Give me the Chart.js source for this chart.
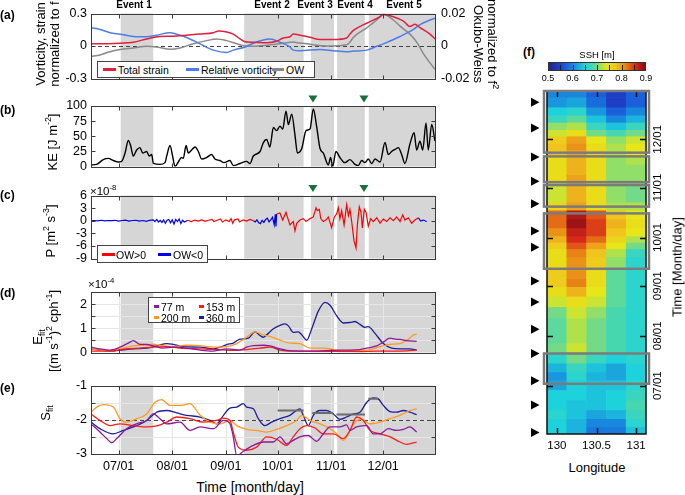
<!DOCTYPE html>
<html>
<head>
<meta charset="utf-8">
<title>Eddy events</title>
<script src="https://cdn.jsdelivr.net/npm/chart.js@4.4.1/dist/chart.umd.min.js"></script>
<style>
  body { margin: 0; width: 685px; height: 495px; position: relative; overflow: hidden; background: #fff;
         font-family: "Liberation Sans", Arial, sans-serif; color: #000; }
  canvas { position: absolute; }
  .t { position: absolute; white-space: nowrap; line-height: 1; }
  .c { transform: translate(-50%, -50%); }
  .v { transform: translate(-50%, -50%) rotate(-90deg); text-align: center; }
  .vr { transform: translate(-50%, -50%) rotate(90deg); text-align: center; }
  .b { font-weight: bold; }
  .leg { position: absolute; background: #fff; border: 1px solid #444; box-sizing: border-box; font-size: 10.5px; }
  .sw { position: absolute; height: 3px; }
  .cbt { position: absolute; width: 1px; height: 5px; background: #222; }
  sup, sub { font-size: 68%; line-height: 0; }
</style>
</head>
<body>
<canvas id="chartA" width="480" height="92" style="left:0;top:0"></canvas>
<canvas id="chartB" width="480" height="84" style="left:0;top:94px"></canvas>
<canvas id="chartC" width="480" height="86" style="left:0;top:184px"></canvas>
<canvas id="chartD" width="480" height="84" style="left:0;top:280px"></canvas>
<canvas id="chartE" width="480" height="101" style="left:0;top:374px"></canvas>
<canvas id="chartF" width="180" height="374" style="left:505px;top:80px"></canvas>

<!-- panel letters -->
<div class="t b" style="left:0;top:9px;font-size:12px">(a)</div>
<div class="t b" style="left:0;top:104px;font-size:12px">(b)</div>
<div class="t b" style="left:0;top:189px;font-size:12px">(c)</div>
<div class="t b" style="left:0;top:287px;font-size:12px">(d)</div>
<div class="t b" style="left:0;top:382px;font-size:12px">(e)</div>
<div class="t b" style="left:523px;top:46px;font-size:12px">(f)</div>

<!-- event names -->
<div class="t b c" style="left:134px;top:5px;font-size:10px">Event 1</div>
<div class="t b c" style="left:272px;top:5px;font-size:10px">Event 2</div>
<div class="t b c" style="left:315px;top:5px;font-size:10px">Event 3</div>
<div class="t b c" style="left:355px;top:5px;font-size:10px">Event 4</div>
<div class="t b c" style="left:404px;top:5px;font-size:10px">Event 5</div>

<!-- axis titles -->
<div class="t v" style="left:40px;top:44px;font-size:13px">Vorticity, strain</div>
<div class="t v" style="left:54px;top:44px;font-size:13px">normalized to f</div>
<div class="t vr" style="left:478px;top:44px;font-size:13px">Okubo-Weiss</div>
<div class="t vr" style="left:492px;top:44px;font-size:13px">normalized to f<sup>2</sup></div>
<div class="t v" style="left:52px;top:142px;font-size:13px">KE [J m<sup>-2</sup>]</div>
<div class="t v" style="left:50px;top:231px;font-size:13px">P [m<sup>2</sup> s<sup>-3</sup>]</div>
<div class="t v" style="left:37px;top:337px;font-size:13px">E<sub>fit</sub></div>
<div class="t v" style="left:53px;top:331px;font-size:13px">[(m s<sup>-1</sup>)<sup>2</sup> cph<sup>-1</sup>]</div>
<div class="t v" style="left:45px;top:413px;font-size:13px">S<sub>fit</sub></div>
<div class="t c" style="left:250px;top:487px;font-size:14px">Time [month/day]</div>
<div class="t" style="left:90px;top:186px;font-size:11.5px">×10<sup>-8</sup></div>
<div class="t" style="left:88px;top:279px;font-size:11.5px">×10<sup>-4</sup></div>

<!-- legends -->
<div class="leg" style="left:97px;top:61px;width:218px;height:17px">
  <span class="sw" style="left:5px;top:6px;width:13px;background:#e0203c"></span>
  <span class="t" style="left:20px;top:3px">Total strain</span>
  <span class="sw" style="left:88px;top:6px;width:13px;background:#4d7ee8"></span>
  <span class="t" style="left:103px;top:3px">Relative vorticity</span>
  <span class="sw" style="left:174px;top:6px;width:12px;background:#888"></span>
  <span class="t" style="left:188px;top:3px">OW</span>
</div>
<div class="leg" style="left:97px;top:245px;width:111px;height:18px">
  <span class="sw" style="left:4px;top:7px;width:13px;background:#ff0000"></span>
  <span class="t" style="left:18px;top:4px">OW&gt;0</span>
  <span class="sw" style="left:60px;top:7px;width:13px;background:#0000ee"></span>
  <span class="t" style="left:75px;top:4px">OW&lt;0</span>
</div>
<div class="leg" style="left:148px;top:297px;width:92px;height:26px">
  <span class="sw" style="left:5px;top:7px;width:5px;background:#8b1a9b"></span>
  <span class="t" style="left:12px;top:4px">77 m</span>
  <span class="sw" style="left:50px;top:7px;width:5px;background:#ff1a1a"></span>
  <span class="t" style="left:57px;top:4px">153 m</span>
  <span class="sw" style="left:5px;top:18px;width:5px;background:#ff9a1f"></span>
  <span class="t" style="left:12px;top:15px">200 m</span>
  <span class="sw" style="left:50px;top:18px;width:5px;background:#1f1f9a"></span>
  <span class="t" style="left:57px;top:15px">360 m</span>
</div>

<!-- panel f extras -->
<div class="t c" style="left:597px;top:55px;font-size:9.5px">SSH [m]</div>
<div id="cbar" style="position:absolute;left:548px;top:62px;width:98px;height:9px;border:1px solid #333;box-sizing:border-box"></div>
<div id="cbarLabels"></div>
<div class="t c" style="left:597px;top:467px;font-size:13px">Longitude</div>
<div class="t v" style="left:677px;top:267px;font-size:13px">Time [Month/day]</div>

<script>
// ---- time axis (days since 07/01) ----
const monthDays = [0, 31, 62, 92, 123, 153];
const monthLabels = ['07/01', '08/01', '09/01', '10/01', '11/01', '12/01'];
const events = [[1.2, 20], [72.6, 107], [111.2, 124.6], [126.4, 142.4], [144.7, 183]];
const greenDays = [112.4, 141.9];

// ---- (a) vorticity / strain / OW ----
const strainDay = [-16, -10.8, 0.8, 8.5, 16.2, 23.9, 31.6, 39.3, 47.1, 54.8, 57.7, 62.5, 66.3, 70.2, 73.1, 77.9, 85.6, 91.4, 95.3, 99.1, 101, 104.9, 110.7, 116.5, 124.2, 131.9, 133.8, 135.8, 143.5, 151.2, 153.1, 158.9, 164.7, 168.5, 171.4, 174.3, 180.1, 183];
const strain = [0.02, 0.02, 0.026, 0.035, 0.065, 0.088, 0.09, 0.1, 0.11, 0.123, 0.138, 0.13, 0.11, 0.065, 0.04, 0.035, 0.03, 0.044, 0.074, 0.085, 0.11, 0.1, 0.08, 0.06, 0.06, 0.074, 0.11, 0.144, 0.21, 0.27, 0.29, 0.27, 0.23, 0.18, 0.2, 0.17, 0.11, 0.065];
const vortDay = [-16, -10.8, -5, 0.8, 8.5, 16.2, 22, 29.7, 33.6, 39.3, 47.1, 54.8, 62.5, 66.3, 73.1, 77.9, 83.7, 87.5, 93.3, 99.1, 101, 104.9, 116.5, 124.2, 131.9, 135.8, 143.5, 149.3, 153.1, 162.8, 170.5, 174.3, 180.1, 183];
const vort = [0.168, 0.153, 0.123, 0.109, 0.088, 0.085, 0.1, 0.123, 0.109, 0.079, 0.02, -0.038, -0.059, -0.038, -0.009, 0.026, 0.056, 0.065, 0.035, -0.009, -0.038, -0.044, -0.032, -0.044, -0.053, -0.047, -0.038, -0.003, 0.02, 0.088, 0.153, 0.197, 0.24, 0.256];
const owDay = [-16, -10.8, -5, 0.8, 8.5, 16.2, 22, 29.7, 35.5, 43.2, 50.9, 56.7, 62.5, 68.3, 73.1, 77.9, 85.6, 93.3, 97.2, 101, 104.9, 112.6, 120.3, 131.9, 133.8, 135.8, 143.5, 149.3, 153.1, 158.9, 162.8, 168.5, 172.4, 176.2, 180.1, 183];
const ow = [-0.0065, -0.0055, -0.0035, -0.0022, -0.0012, -0.0002, -0.0006, -0.002, -0.0012, 0.0014, 0.0033, 0.0043, 0.0033, 0.0014, 0, -0.0002, 0.0004, 0.0014, 0.002, 0.0024, 0.0018, 0.0008, 0, 0.0008, 0.0024, 0.0053, 0.0112, 0.016, 0.0196, 0.016, 0.0122, 0.0073, 0.0024, -0.0045, -0.0104, -0.0143];

// ---- (b) kinetic energy ----
const keDay = [-16, -12.7, -8.9, -6, -3.1, -0.2, 1.7, 3.7, 5.6, 6.9, 8.5, 10.4, 12.3, 13.9, 16.2, 17.7, 19.1, 20.1, 23.9, 26.8, 27.8, 29.7, 31.2, 32.6, 34.5, 36.4, 37.4, 39, 40.3, 42.2, 44.2, 46.1, 48, 50.9, 53.8, 55.7, 58.6, 60.9, 64.4, 66.3, 70.2, 74, 76, 77.9, 81.8, 83.7, 85.6, 87.5, 89.5, 91.4, 93.3, 94.9, 96.8, 98.2, 100.1, 102, 103.4, 105.9, 108.4, 110.7, 112.6, 114.5, 116.5, 118.4, 121.3, 122.6, 123.8, 125.7, 128, 130.9, 133.8, 136.7, 138.6, 140.6, 142.5, 144.4, 146.4, 148.3, 151.2, 154.1, 156, 157.9, 159.9, 161.8, 163.7, 165.6, 168.5, 170.9, 172.4, 174.3, 175.9, 177.8, 179.1, 181.1, 183];
const ke = [2.5, 3.5, 11.4, 13.4, 9.9, 7.4, 8.4, 22.3, 43, 34.7, 17.3, 27.2, 31.2, 22.3, 24.8, 17.3, 19.8, 5, 3.5, 6.4, 17.3, 34.7, 17.3, 0, 7.4, 14.9, 13.4, 34.7, 22.3, 27.2, 32.2, 24.8, 12.4, 14.9, 19.8, 12.4, 9.9, 6.4, 9.9, 1.5, 5, 8.4, 5, 17.3, 24.8, 39.6, 44.6, 32.2, 64.4, 59.4, 66.8, 61.9, 91.6, 69.3, 86.6, 52, 22.3, 29.7, 59.4, 61.9, 95, 66.8, 29.7, 22.3, 2.5, 14.9, 0, 24.8, 14.9, 6.4, 11.4, 3.5, 1.5, 9.9, 6.4, 12.4, 5, 12.4, 7.4, 39.6, 19.8, 24.8, 28.2, 31.2, 19.8, 5, 37.1, 55.9, 27.2, 42, 27.2, 71.8, 27.2, 69.3, 42];

// ---- (c) energy conversion P (x1e-8) ----
const pDay = [-16, -14, -12, -10, -8, -6, -4, -2, 0, 2, 4, 6, 8, 10, 12, 14, 16, 18, 20, 21, 22, 23, 24, 25, 26, 27, 28, 29, 30, 31, 32, 33, 34, 35, 36, 37, 38,
  40, 42, 44, 46, 48, 50, 52, 54, 55, 57, 59, 60, 62, 64, 65, 66, 67, 69, 70, 72, 74, 76, 78,
  79, 80, 81, 82, 83, 84, 85, 86, 87, 88, 89, 90, 90.6, 91, 91.4,
  93.3, 94.9, 96.8, 97.6, 99.1, 101, 102, 103, 104.9, 106.8, 108.4, 110.7, 112.6, 114.2, 114.9, 116.1, 116.9, 118.4, 119.9, 121.3, 123.2, 124.8, 126.1, 127.1, 128, 129, 130.4, 131.9, 132.9, 133.8, 134.8, 136.1, 137.3, 138.1, 139.2, 140.2, 141, 142.1, 143.1, 144.4, 145.8, 147.3, 149.3, 151.2, 153.1, 155, 157, 158.9, 160.8, 162.8, 164.3, 165.6, 167.6, 169.5, 171.4, 173.4,
  174.7, 176.2, 178.2];
const pVal = [0, 0.05, -0.05, 0.1, -0.05, 0.05, 0, 0.1, -0.1, 0.05, 0.15, -0.1, 0.05, 0.1, -0.1, 0.05, -0.15, 0.1, 0.2, -0.2, 0.3, -0.3, 0.1, -0.4, 0.2, -0.6, 0.1, 0.3, -0.5, 0.2, -0.8, 0.3, -0.2, 0.4, -0.7, 0.1, -0.3,
  0.1, -0.2, 0.15, -0.1, 0.2, -0.15, 0.1, 0.3, -0.2, 0.1, 0.4, -0.3, 0.2, -0.2, 0.5, -0.6, 0.2, 0.4, -0.3, 0.2, -0.1, 0.3, 0,
  -0.3, 0.2, -0.5, -0.7, 0.1, -0.4, 0.3, 0.6, -0.3, 0.2, 0.8, -1.0, 1.5, -1.4, 1.6,
  1.85, 0.15, 2.0, 0.9, -1.0, -0.2, -2.4, -0.6, 0.15, 0.5, -0.2, 0.5, 0.9, 3.1, 2.4, 2.7, 0.5, -0.2, 0.15, 0.9, -1.7, 0.9, 1.6, 3.1, 0.5, 2.4, -1.0, 3.8, 1.25, 2.7, -0.2, -4.7, -6.5, -1.0, 3.3, 2.0, -1.7, 2.7, 2.0, -1.3, 0.5, -0.2, 0.7, -0.6, 0.4, -0.2, 0.7, 0, 0.9, -0.2, 1.4, 0.15, 0.7, -0.6, 0.15, 0.7,
  -0.1, 0.15, -0.2];
const owNegRanges = [[-16, 39], [78, 91.4], [173.4, 184]];

// ---- (d) E_fit (x1e-4) ----
const e360Day = [-16, -10.8, -5, 0.8, 8.5, 16.2, 22, 27.8, 31.6, 37.4, 47.1, 54.8, 59.6, 62.5, 66.3, 70.2, 75, 78.9, 81.8, 83.7, 85.6, 89.5, 93.3, 96.2, 98.2, 101, 103.9, 105.9, 108.8, 111.7, 115.5, 119.4, 122.3, 126.1, 130, 133.8, 136.7, 139.6, 142.5, 144.4, 148.3, 153.1, 157.9, 162.8, 168.5, 172.4];
const e360 = [0.15, 0.1, 0.06, 0.1, 0.15, 0.18, 0.27, 0.37, 0.34, 0.24, 0.22, 0.15, 0.24, 0.33, 0.39, 0.55, 0.59, 0.85, 0.7, 0.63, 0.73, 0.98, 1.12, 1.18, 1.1, 0.83, 0.85, 0.73, 0.51, 0.98, 1.71, 2.07, 1.95, 1.52, 1.22, 1.24, 1.28, 1.16, 1.04, 1.07, 0.79, 0.37, 0.18, 0.15, 0.15, 0.1];
const e200Day = [-16, -10.8, -5, 0.8, 8.5, 14.3, 20.1, 23.9, 31.6, 39.3, 47.1, 54.8, 62.5, 68.3, 74, 78.9, 83.7, 87.5, 93.3, 99.1, 104.9, 110.7, 118.4, 124.2, 130, 137.7, 143.5, 151.2, 157, 162.8, 167.6, 170.5, 172.4];
const e200 = [0.15, 0.1, 0.06, 0.15, 0.27, 0.3, 0.34, 0.3, 0.24, 0.3, 0.28, 0.22, 0.24, 0.37, 0.63, 0.85, 0.73, 0.67, 0.51, 0.39, 0.37, 0.18, 0.18, 0.12, 0.06, 0.09, 0.1, 0.24, 0.34, 0.37, 0.55, 0.73, 0.76];
const e77Day = [-16, -10.8, -5, 0.8, 5.6, 8.5, 12.3, 16.2, 20.1, 25.8, 31.6, 39.3, 47.1, 54.8, 62.5, 70.2, 74, 77.9, 83.7, 87.5, 93.3, 97.2, 104.9, 114.5, 124.2, 131.9, 139.6, 143.5, 149.3, 153.1, 157, 159.9, 162.8, 166.6, 172.4];
const e77 = [0.22, 0.15, 0.1, 0.22, 0.39, 0.49, 0.34, 0.33, 0.27, 0.18, 0.22, 0.18, 0.1, 0.06, 0.15, 0.1, 0.22, 0.28, 0.3, 0.27, 0.15, 0.09, 0.06, 0.06, 0.09, 0.1, 0.12, 0.18, 0.27, 0.43, 0.59, 0.55, 0.54, 0.49, 0.46];
const e153Day = [-16, -5, 4.6, 12.3, 20.1, 27.8, 35.5, 47.1, 56.7, 66.3, 74, 81.8, 87.5, 93.3, 99.1, 108.8, 118.4, 128, 139.6, 149.3, 158.9, 166.6, 172.4];
const e153 = [0.06, 0.06, 0.15, 0.18, 0.22, 0.24, 0.18, 0.15, 0.12, 0.09, 0.12, 0.18, 0.22, 0.1, 0.06, 0.06, 0.05, 0.05, 0.04, 0.06, 0.06, 0.07, 0.1];

// ---- (e) S_fit ----
const s360Day = [-16, -10.8, -3.1, 2.7, 8.5, 16.2, 22, 27.8, 33.6, 39.3, 47.1, 52.9, 56.7, 60.6, 64.4, 68.3, 72.1, 74, 77.9, 80.8, 84.6, 88.5, 93.3, 99.1, 104.9, 106.8, 109.7, 112.6, 116.5, 120.3, 124.2, 128, 131.9, 135.8, 139.6, 143.5, 147.3, 150.2, 153.1, 157, 160.8, 164.7, 168.5, 172.4];
const s360 = [-2.07, -2.26, -2.41, -2.31, -2.21, -2.02, -1.78, -1.73, -1.8, -1.87, -1.92, -2.02, -2.12, -1.87, -1.66, -1.63, -1.53, -1.63, -1.68, -1.97, -2.17, -2.07, -1.97, -1.87, -1.68, -1.87, -2.17, -1.87, -1.73, -1.73, -1.83, -1.99, -1.92, -1.83, -1.78, -1.49, -1.36, -1.39, -1.58, -1.76, -1.78, -1.73, -1.78, -1.85];
const s200Day = [-16, -12.7, -8.9, -3.1, 0.8, 4.6, 10.4, 16.2, 21, 24.8, 29.7, 35.5, 41.3, 47.1, 52.9, 58.6, 64.4, 68.3, 74, 79.8, 85.6, 91.4, 97.2, 102.9, 105.9, 110.7, 116.5, 122.3, 126.1, 130, 132.9, 136.7, 140.6, 145.4, 151.2, 157, 162.8, 168.5, 172.4];
const s200 = [-1.78, -1.63, -1.56, -1.63, -1.97, -2.07, -1.97, -1.83, -1.49, -1.41, -1.58, -1.58, -1.53, -1.87, -2.07, -2.12, -2.02, -2.17, -2.28, -2.31, -2.36, -2.28, -2.17, -2.02, -1.87, -2.02, -2.12, -2.26, -2.41, -2.6, -2.41, -2.07, -1.99, -2.12, -2.07, -1.97, -1.87, -1.73, -1.68];
const s77Day = [-16, -10.8, -6.9, -4, -1.1, 4.6, 10.4, 16.2, 20.1, 23.9, 27.8, 35.5, 41.3, 47.1, 54.8, 60.6, 64.4, 66.3, 68.3, 72.1, 77.9, 83.7, 89.5, 93.3, 97.2, 101, 104.9, 109.7, 114.5, 118.4, 122.3, 128, 131.9, 133.8, 137.7, 143.5, 147.3, 151.2, 156, 160.8, 164.7, 168.5, 172.4];
const s77 = [-2.12, -2.36, -2.55, -2.67, -2.55, -2.26, -2.12, -2.02, -1.83, -1.97, -2.12, -2.07, -2.31, -2.21, -2.26, -2.02, -2.12, -2.5, -3.05, -2.92, -2.75, -2.65, -2.65, -2.5, -2.7, -2.6, -2.5, -2.46, -2.63, -2.41, -2.21, -2.21, -2.15, -2.31, -2.21, -2.17, -2.41, -2.41, -2.26, -2.31, -2.28, -2.21, -2.36];
const s153Day = [-16, -10.8, -5, 0.8, 8.5, 16.2, 22, 27.8, 33.6, 41.3, 49, 56.7, 60.6, 64.4, 66.3, 69.2, 74, 79.8, 85.6, 91.4, 97.2, 101, 104.9, 108.8, 113.6, 118.4, 124.2, 130, 133.8, 137.7, 141.5, 145.4, 151.2, 157, 162.8, 166.6, 172.4];
const s153 = [-1.83, -2.02, -2.17, -2.12, -2.17, -2.21, -2.18, -2.07, -1.92, -1.97, -2.07, -2.02, -1.95, -2.02, -2.36, -2.8, -2.89, -2.8, -2.5, -2.57, -2.75, -2.5, -2.26, -2.17, -2.24, -2.41, -2.41, -2.55, -2.31, -1.92, -2.02, -2.31, -2.41, -2.5, -2.65, -2.72, -2.65];
const sMeanSpan = [[92, 107], [112, 124], [126, 142.5], [144.4, 150]];
const sMean = [-1.73, -1.8, -1.85, -1.39];

// ---- (f) SSH Hovmoller (rows: day, cols: longitude) ----
const sshLon = [130, 130.25, 130.5, 130.75, 131];
const sshDays = [-28, -23, -18, -12, -6, 1, 6, 11, 17, 23, 30, 38, 46, 52, 59, 64, 69, 77, 83, 87, 91, 95, 101, 106, 112, 116, 122, 128, 134, 141, 145, 148, 153, 157, 161, 166, 170, 176, 182];
const sshRows = [
  [0.65, 0.63, 0.59, 0.59, 0.64], [0.65, 0.63, 0.60, 0.60, 0.66], [0.66, 0.64, 0.62, 0.63, 0.67],
  [0.65, 0.64, 0.64, 0.65, 0.68], [0.65, 0.65, 0.64, 0.65, 0.67], [0.62, 0.65, 0.64, 0.64, 0.66],
  [0.61, 0.66, 0.63, 0.62, 0.65], [0.63, 0.67, 0.64, 0.62, 0.65], [0.66, 0.70, 0.67, 0.65, 0.66],
  [0.70, 0.73, 0.70, 0.68, 0.66], [0.69, 0.72, 0.70, 0.68, 0.66], [0.69, 0.72, 0.70, 0.68, 0.66],
  [0.70, 0.73, 0.71, 0.68, 0.66], [0.73, 0.75, 0.73, 0.69, 0.66], [0.75, 0.79, 0.74, 0.69, 0.66],
  [0.77, 0.82, 0.75, 0.69, 0.66], [0.77, 0.81, 0.75, 0.69, 0.66], [0.75, 0.81, 0.77, 0.71, 0.66],
  [0.75, 0.82, 0.78, 0.72, 0.67], [0.77, 0.84, 0.80, 0.74, 0.70], [0.79, 0.86, 0.83, 0.76, 0.72],
  [0.81, 0.87, 0.85, 0.78, 0.74], [0.83, 0.89, 0.85, 0.79, 0.75], [0.83, 0.88, 0.84, 0.78, 0.74],
  [0.76, 0.80, 0.75, 0.72, 0.72], [0.73, 0.79, 0.75, 0.71, 0.70], [0.73, 0.79, 0.75, 0.71, 0.70],
  [0.75, 0.80, 0.75, 0.71, 0.71], [0.75, 0.79, 0.75, 0.71, 0.71], [0.75, 0.79, 0.75, 0.71, 0.72],
  [0.78, 0.80, 0.76, 0.72, 0.74], [0.78, 0.81, 0.75, 0.72, 0.74], [0.77, 0.80, 0.74, 0.71, 0.73],
  [0.73, 0.75, 0.70, 0.68, 0.70], [0.71, 0.72, 0.67, 0.64, 0.67], [0.67, 0.69, 0.64, 0.60, 0.63],
  [0.65, 0.66, 0.61, 0.57, 0.60], [0.61, 0.62, 0.58, 0.54, 0.57], [0.60, 0.60, 0.57, 0.54, 0.57]
];
const sshMarkDays = [-29, -12, 3, 20, 35, 52, 65, 86, 96, 113, 127, 142, 160, 176];
const lonTicks = [130, 130.5, 131];
const cbTicks = [0.5, 0.6, 0.7, 0.8, 0.9];
const cbMinorTicks = [0.55, 0.6, 0.65, 0.7, 0.75, 0.8, 0.85];

// ---- colour map for SSH ----
const cmapStops = [
  [0.50, [40, 35, 130]], [0.55, [25, 70, 215]], [0.60, [25, 135, 222]], [0.65, [30, 210, 220]],
  [0.68, [70, 215, 175]], [0.70, [115, 218, 135]], [0.72, [175, 225, 75]], [0.74, [230, 230, 25]],
  [0.78, [240, 195, 30]], [0.82, [232, 130, 22]], [0.86, [215, 40, 25]], [0.90, [135, 12, 22]]
];
function sshColor(v) {
  if (v <= cmapStops[0][0]) return `rgb(${cmapStops[0][1].join(',')})`;
  for (let i = 1; i < cmapStops.length; i++) {
    const [v1, c1] = cmapStops[i];
    if (v <= v1) {
      const [v0, c0] = cmapStops[i - 1];
      const f = (v - v0) / (v1 - v0);
      return `rgb(${c0.map((c, k) => Math.round(c + (c1[k] - c) * f)).join(',')})`;
    }
  }
  return `rgb(${cmapStops[cmapStops.length - 1][1].join(',')})`;
}

// colourbar
const cbPos = v => 548 + (v - 0.5) / 0.4 * 98;
document.getElementById('cbar').style.background = 'linear-gradient(to right, ' +
  cmapStops.map(([v, c]) => `rgb(${c.join(',')}) ${((v - 0.5) / 0.4 * 100).toFixed(1)}%`).join(', ') + ')';
document.getElementById('cbarLabels').innerHTML =
  cbTicks.map(v => `<div class="t c" style="left:${cbPos(v)}px;top:78px;font-size:9px">${v}</div>`).join('') +
  cbMinorTicks.map(v => `<div class="cbt" style="left:${Math.round(cbPos(v))}px;top:65px"></div>`).join('');

// ---- Chart.js setup ----
const FONT = '"Liberation Sans", Arial, sans-serif';
Chart.defaults.font.family = FONT;
Chart.defaults.color = '#000';

const pts = (xs, ys) => xs.map((x, i) => ({ x, y: ys[i] }));

const eventShade = {
  id: 'eventShade',
  beforeDatasetsDraw(chart, args, opts) {
    const { ctx, chartArea: a, scales: { x, y } } = chart;
    ctx.save();
    ctx.fillStyle = '#d6d6d6';
    events.forEach(([s, e]) => {
      const x0 = x.getPixelForValue(s), x1 = x.getPixelForValue(e);
      ctx.fillRect(x0, a.top, x1 - x0, a.bottom - a.top);
    });
    if (opts.grid) {
      ctx.strokeStyle = '#e6e6e6';
      ctx.lineWidth = 1;
      ctx.beginPath();
      monthDays.forEach(d => {
        const px = Math.round(x.getPixelForValue(d)) + 0.5;
        ctx.moveTo(px, a.top); ctx.lineTo(px, a.bottom);
      });
      y.ticks.forEach(t => {
        const py = Math.round(y.getPixelForValue(t.value)) + 0.5;
        ctx.moveTo(a.left, py); ctx.lineTo(a.right, py);
      });
      ctx.stroke();
    }
    if (opts.refY !== undefined) {
      const py = Math.round(y.getPixelForValue(opts.refY)) + 0.5;
      ctx.strokeStyle = '#444';
      ctx.lineWidth = 1;
      ctx.setLineDash([4, 3]);
      ctx.beginPath(); ctx.moveTo(a.left, py); ctx.lineTo(a.right, py); ctx.stroke();
    }
    ctx.restore();
  }
};

const frame = {
  id: 'frame',
  afterDatasetsDraw(chart, args, opts) {
    const { ctx, chartArea: a, scales } = chart;
    const L = 4;
    const l = Math.round(a.left) + 0.5, r = Math.round(a.right) + 0.5;
    const t = Math.round(a.top) + 0.5, b = Math.round(a.bottom) + 0.5;
    ctx.save();
    ctx.strokeStyle = '#3a3a3a';
    ctx.lineWidth = 1;
    ctx.strokeRect(l, t, r - l, b - t);
    ctx.beginPath();
    scales.x.ticks.forEach(tk => {
      const p = Math.round(scales.x.getPixelForValue(tk.value)) + 0.5;
      ctx.moveTo(p, t); ctx.lineTo(p, t + L);
      ctx.moveTo(p, b); ctx.lineTo(p, b - L);
    });
    const yl = scales.y, yr = scales.y2 || scales.y;
    yl.ticks.forEach(tk => {
      const p = Math.round(yl.getPixelForValue(tk.value)) + 0.5;
      ctx.moveTo(l, p); ctx.lineTo(l + L, p);
    });
    yr.ticks.forEach(tk => {
      const p = Math.round(yr.getPixelForValue(tk.value)) + 0.5;
      ctx.moveTo(r, p); ctx.lineTo(r - L, p);
    });
    ctx.stroke();
    if (opts.markers) {
      ctx.fillStyle = '#17703a';
      greenDays.forEach(d => {
        const px = scales.x.getPixelForValue(d), py = a.top - 7;
        ctx.beginPath();
        ctx.moveTo(px - 4.5, py - 3.5); ctx.lineTo(px + 4.5, py - 3.5); ctx.lineTo(px, py + 3.5);
        ctx.closePath(); ctx.fill();
      });
    }
    ctx.restore();
  }
};

function timeScale(showLabels) {
  const s = {
    type: 'linear', min: -16, max: 183, display: showLabels,
    grid: { display: false, drawTicks: false }, border: { display: false },
    afterBuildTicks: sc => { sc.ticks = monthDays.map(v => ({ value: v })); },
    ticks: { autoSkip: false, maxRotation: 0, padding: 5, font: { size: 12.5 },
             callback: v => monthLabels[monthDays.indexOf(v)] }
  };
  if (showLabels) s.afterFit = sc => { sc.height = 21; };
  return s;
}

function valueScale(min, max, opt) {
  const s = {
    type: 'linear', min, max, position: opt.position || 'left',
    grid: { display: false, drawTicks: false }, border: { display: false },
    ticks: { autoSkip: false, padding: opt.position === 'right' ? 6 : 4, font: { size: 12.5 }, stepSize: opt.step,
             callback: opt.fmt || (v => String(v)) },
    afterFit: sc => { sc.width = opt.width; }
  };
  if (opt.ticks) s.afterBuildTicks = sc => { sc.ticks = opt.ticks.map(v => ({ value: v })); };
  return s;
}

function line(data, color, width, extra) {
  return Object.assign({ data, borderColor: color, borderWidth: width, pointRadius: 0,
                         cubicInterpolationMode: 'monotone', fill: false }, extra || {});
}

function makeChart(id, datasets, scales, padding, pluginOpts) {
  return new Chart(document.getElementById(id), {
    type: 'line',
    data: { datasets },
    options: {
      responsive: false, animation: false, events: [],
      layout: { padding },
      scales,
      plugins: {
        legend: { display: false }, tooltip: { enabled: false },
        eventShade: pluginOpts.shade || {}, frame: pluginOpts.frame || {}
      }
    },
    plugins: [eventShade, frame]
  });
}

// (a)
makeChart('chartA', [
  line(pts(strainDay, strain), '#e0203c', 1.5),
  line(pts(vortDay, vort), '#4d7ee8', 1.5),
  line(pts(owDay, ow), '#8a8a8a', 1.5, { yAxisID: 'y2' })
], {
  x: timeScale(false),
  y: valueScale(-0.3, 0.3, { width: 91, ticks: [-0.3, 0, 0.3], fmt: v => v === 0 ? '0' : v.toFixed(1) }),
  y2: valueScale(-0.02, 0.02, { width: 45, position: 'right', ticks: [-0.02, 0, 0.02], fmt: v => v === 0 ? '0' : v.toFixed(2) })
}, { top: 12, bottom: 12, left: 0, right: 0 }, { shade: { refY: 0 } });

// (b)
makeChart('chartB', [
  line(pts(keDay, ke), '#000', 1.4)
], {
  x: timeScale(false),
  y: valueScale(0, 100, { width: 91, step: 25 })
}, { top: 12, bottom: 4, left: 0, right: 45 }, { frame: { markers: true } });

// (c)
makeChart('chartC', [
  line(pts(pDay, pVal), '#ff0000', 1.2, {
    cubicInterpolationMode: 'default', tension: 0,
    segment: {
      borderColor: ctx => owNegRanges.some(([s, e]) => ctx.p0.parsed.x >= s && ctx.p0.parsed.x < e) ? '#0000ee' : '#ff0000'
    }
  })
], {
  x: timeScale(false),
  y: valueScale(-9, 6, { width: 91, step: 3 })
}, { top: 11, bottom: 4, left: 0, right: 45 }, { frame: { markers: true } });

// (d)
const intOnly = v => Number.isInteger(v) ? String(v) : '';
makeChart('chartD', [
  line(pts(e77Day, e77), '#8b1a9b', 1.3),
  line(pts(e153Day, e153), '#ff1a1a', 1.3),
  line(pts(e200Day, e200), '#ff9a1f', 1.3),
  line(pts(e360Day, e360), '#1f1f9a', 1.3)
], {
  x: timeScale(false),
  y: valueScale(0, 2.5, { width: 91, step: 0.5, fmt: intOnly })
}, { top: 12, bottom: 4, left: 0, right: 45 }, { shade: { grid: true } });

// (e)
const meanPts = [];
sMeanSpan.forEach(([s, e], i) => {
  meanPts.push({ x: s, y: sMean[i] }, { x: e, y: sMean[i] }, { x: e + 0.5, y: null });
});
makeChart('chartE', [
  line(meanPts, '#6b6b6b', 2, { cubicInterpolationMode: 'default', tension: 0, spanGaps: false }),
  line(pts(s77Day, s77), '#8b1a9b', 1.3),
  line(pts(s153Day, s153), '#ff1a1a', 1.3),
  line(pts(s200Day, s200), '#ff9a1f', 1.3),
  line(pts(s360Day, s360), '#1f1f9a', 1.3)
], {
  x: timeScale(true),
  y: valueScale(-3, -1, { width: 91, step: 0.5, fmt: intOnly })
}, { top: 11, bottom: 0, left: 0, right: 45 }, { shade: { grid: true, refY: -2 } });

// (f) heat map
const cells = [], cellColors = [];
sshDays.forEach((d, i) => {
  const lo = i === 0 ? -30 : (sshDays[i - 1] + d) / 2;
  const hi = i === sshDays.length - 1 ? 183 : (d + sshDays[i + 1]) / 2;
  sshRows[i].forEach((v, j) => {
    cells.push({ x: sshLon[j], y: [lo, hi] });
    cellColors.push(sshColor(v));
  });
});

const heatDeco = {
  id: 'heatDeco',
  afterDatasetsDraw(chart) {
    const { ctx, chartArea: a, scales: { x, y } } = chart;
    ctx.save();
    ctx.strokeStyle = '#111';
    ctx.lineWidth = 1.5;
    ctx.strokeRect(a.left, a.top, a.width, a.height);
    ctx.beginPath();
    lonTicks.forEach(v => {
      const px = Math.round(x.getPixelForValue(v)) + 0.5;
      ctx.moveTo(px, a.top); ctx.lineTo(px, a.top + 6);
      ctx.moveTo(px, a.bottom); ctx.lineTo(px, a.bottom - 6);
    });
    monthDays.forEach(d => {
      const py = Math.round(y.getPixelForValue(d)) + 0.5;
      ctx.moveTo(a.left, py); ctx.lineTo(a.left + 6, py);
      ctx.moveTo(a.right, py); ctx.lineTo(a.right - 6, py);
    });
    ctx.stroke();
    ctx.strokeStyle = '#7b7b7b';
    ctx.lineWidth = 2.5;
    events.forEach(([s, e]) => {
      const top = y.getPixelForValue(e), bot = y.getPixelForValue(s);
      ctx.strokeRect(a.left - 3, top, a.width + 6, bot - top);
    });
    ctx.fillStyle = '#000';
    sshMarkDays.forEach(d => {
      const py = y.getPixelForValue(d), px = a.left - 12;
      ctx.beginPath();
      ctx.moveTo(px - 4, py - 4.5); ctx.lineTo(px + 4.5, py); ctx.lineTo(px - 4, py + 4.5);
      ctx.closePath(); ctx.fill();
    });
    ctx.font = `11.5px ${FONT}`;
    ctx.textAlign = 'center';
    ctx.textBaseline = 'middle';
    monthDays.forEach((d, i) => {
      ctx.save();
      ctx.translate(a.right + 12, y.getPixelForValue(d));
      ctx.rotate(-Math.PI / 2);
      ctx.fillText(monthLabels[i], 0, 0);
      ctx.restore();
    });
    ctx.restore();
  }
};

new Chart(document.getElementById('chartF'), {
  type: 'bar',
  data: {
    datasets: [{
      data: cells, backgroundColor: cellColors, borderWidth: 0,
      barPercentage: 1, categoryPercentage: 1
    }]
  },
  options: {
    responsive: false, animation: false, events: [],
    layout: { padding: { left: 42, right: 39, top: 11, bottom: 0 } },
    scales: {
      x: {
        type: 'linear', min: 129.875, max: 131.125, offset: false,
        grid: { display: false, drawTicks: false }, border: { display: false },
        afterBuildTicks: sc => { sc.ticks = lonTicks.map(v => ({ value: v })); },
        ticks: { padding: 5, font: { size: 11.5 }, maxRotation: 0, autoSkip: false, callback: v => String(v) },
        afterFit: sc => { sc.height = 20; }
      },
      y: { type: 'linear', min: -30, max: 183, display: false }
    },
    plugins: { legend: { display: false }, tooltip: { enabled: false } }
  },
  plugins: [heatDeco]
});
</script>
</body>
</html>
